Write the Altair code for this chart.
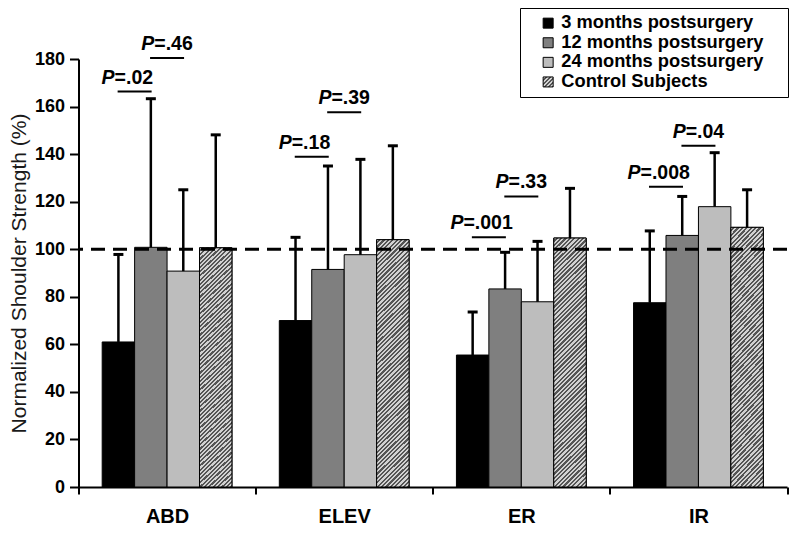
import math
import altair as alt
import pandas as pd

# ---------------- data ----------------
categories = ["ABD", "ELEV", "ER", "IR"]
groups = ["\u00a0\u00a03 months postsurgery", "12 months postsurgery",
          "24 months postsurgery", "Control Subjects"]

mean_3m = [61.0, 70.0, 55.5, 77.5]
mean_12m = [100.8, 91.5, 83.3, 105.8]
mean_24m = [90.8, 97.7, 77.9, 117.9]
mean_ctrl = [100.6, 104.0, 104.7, 109.2]

sd_3m = [36.8, 35.0, 18.1, 30.2]
sd_12m = [62.5, 43.5, 15.4, 16.4]
sd_24m = [34.2, 40.1, 25.4, 22.7]
sd_ctrl = [47.5, 39.5, 20.9, 15.8]

p_cats = ["ABD", "ABD", "ELEV", "ELEV", "ER", "ER", "IR", "IR"]
p_pairs = ["3-12", "12-24", "3-12", "12-24", "3-12", "12-24", "3-12", "12-24"]
p_texts = [".02", ".46", ".18", ".39", ".001", ".33", ".008", ".04"]
p_heights = [166.3, 180.4, 138.9, 157.6, 105.0, 122.2, 126.3, 143.5]
pair_domain = ["edge-L", "3-12", "12-24", "24-C", "edge-R"]

reference_level = 100

rows = []
for g, ms, ss in zip(groups, [mean_3m, mean_12m, mean_24m, mean_ctrl],
                     [sd_3m, sd_12m, sd_24m, sd_ctrl]):
    for c, m, s in zip(categories, ms, ss):
        rows.append({"cat": c, "group": g, "mean": m, "sd": s})
df = pd.DataFrame(rows)
ann = pd.DataFrame({"cat": p_cats, "pair": p_pairs, "pv": p_texts, "line": p_heights})

# ---------------- layout ----------------
W, H = 708.5, 428
FONT = "Liberation Sans"
BAR_W = W / 4 / (4 + 2 * 0.73)

# hatch gradient (diagonal stripes) for tall control bars
LIGHT, DARK = "#d2d2d2", "#555555"


def stripe_stops(t_end, period, dark_frac):
    stops = []
    t = 0.0
    while t + period <= t_end + 1e-9:
        b = t + period * (1 - dark_frac)
        c = t + period
        stops += [{"offset": round(t, 6), "color": LIGHT},
                  {"offset": round(b, 6), "color": LIGHT},
                  {"offset": round(b, 6), "color": DARK},
                  {"offset": round(min(c, 1.0), 6), "color": DARK}]
        t = c
    if t < 1:
        stops.append({"offset": round(t, 6), "color": LIGHT})
        stops.append({"offset": 1, "color": LIGHT})
    return stops


h0 = 105 * H / 180
k = h0 / BAR_W
s = (1 + k) / (1 + k * k)  # scale so that t spans 0..1 over the bar
bar_gradient = {
    "gradient": "linear", "x1": 0, "y1": 0, "x2": round(s, 5), "y2": round(s * k, 5),
    "stops": stripe_stops(1.0, 4 / 256, 0.5),
}

leg_stops = stripe_stops(1.0, 0.2, 0.45)
leg_expr = ("{gradient:'linear',x1:0,y1:0,x2:1,y2:1,stops:["
            + ",".join("{offset:%s,color:'%s'}" % (st["offset"], st["color"]) for st in leg_stops)
            + "]}")

# ---------------- encodings ----------------
x_enc = alt.X("cat:N", sort=categories,
              scale=alt.Scale(domain=categories, paddingInner=0, paddingOuter=0),
              axis=alt.Axis(title=None, labelAngle=0, labelFont=FONT, labelFontSize=20,
                            labelFontWeight="bold", labelColor="black", labelPadding=12,
                            tickBand="extent", tickSize=7, tickWidth=2, tickColor="black",
                            domainColor="black", domainWidth=2, grid=False))
y_axis = alt.Axis(values=list(range(0, 181, 20)), title="Normalized Shoulder Strength (%)",
                  titleFont=FONT, titleFontSize=21, titleFontWeight="normal", titleColor="#1a1a1a",
                  titlePadding=5, labelFont=FONT, labelFontSize=18, labelFontWeight="bold",
                  labelColor="black", labelPadding=5, tickSize=9, tickWidth=2, tickColor="black",
                  domainColor="black", domainWidth=2, grid=False)
y_scale = alt.Scale(domain=[0, 180], nice=False)
off_enc = alt.XOffset("group:N", sort=groups,
                      scale=alt.Scale(domain=groups, paddingInner=0, paddingOuter=0.73))
pair_enc = alt.XOffset("pair:N", sort=pair_domain,
                       scale=alt.Scale(domain=pair_domain, paddingInner=0, paddingOuter=0.23))

base = alt.Chart(df)

bars = base.mark_bar(stroke="black", strokeWidth=1).encode(
    x=x_enc, xOffset=off_enc,
    y=alt.Y("mean:Q", scale=y_scale, axis=y_axis),
    color=alt.Color("group:N", sort=groups,
                    scale=alt.Scale(domain=groups,
                                    range=["#000000", "#7f7f7f", "#bdbdbd", {"expr": leg_expr}]),
                    legend=alt.Legend(orient="none", legendX=441.5, legendY=-51,
                                      title="\u00a0", titleOrient="right", titleFontSize=2,
                                      titlePadding=19,
                                      symbolType="square", symbolSize=100, symbolOpacity=1,
                                      symbolStrokeColor="black", symbolStrokeWidth=1,
                                      labelFont=FONT, labelFontSize=18.3, labelFontWeight="bold",
                                      labelColor="black", labelLimit=500,
                                      padding=6, rowPadding=0.6, symbolOffset=13, labelOffset=4,
                                      strokeColor="black", fillColor="white")),
)

hatch = base.transform_filter(alt.datum.group == groups[3]).mark_bar(
    fill=bar_gradient, stroke="black", strokeWidth=1).encode(
    x=x_enc, xOffset=off_enc, y=alt.Y("mean:Q", scale=y_scale, axis=y_axis))

err = base.transform_calculate(upper="datum.mean + datum.sd").mark_rule(
    color="black", strokeWidth=2.5).encode(
    x=x_enc, xOffset=off_enc, y=alt.Y("mean:Q", scale=y_scale, axis=y_axis), y2="upper:Q")

caps = base.transform_calculate(upper="datum.mean + datum.sd").mark_tick(
    color="black", thickness=3, size=10, opacity=1).encode(
    x=x_enc, xOffset=off_enc, y=alt.Y("upper:Q", scale=y_scale, axis=y_axis))

dash = alt.Chart(pd.DataFrame({"ref": [reference_level]})).mark_rule(
    color="black", strokeWidth=3, strokeDash=[14, 8]).encode(
    y=alt.Y("ref:Q", scale=y_scale, axis=y_axis))

abase = alt.Chart(ann)
FS = 19.5
dx_expr = f"{FS}*(0.667-(1.529+0.556*(length(datum.pv)-1))/2)"

ann_lines = abase.mark_tick(color="black", thickness=2, size=34, opacity=1).encode(
    x=x_enc, xOffset=pair_enc, y=alt.Y("line:Q", scale=y_scale, axis=y_axis))

ann_p = abase.mark_text(text="P", font=FONT, fontSize=FS, fontWeight="bold", fontStyle="italic",
                        align="right", baseline="alphabetic", dy=-8, color="black",
                        dx=alt.ExprRef(expr=dx_expr)).encode(
    x=x_enc, xOffset=pair_enc, y=alt.Y("line:Q", scale=y_scale, axis=y_axis))

ann_t = abase.transform_calculate(lab="'=' + datum.pv").mark_text(
    font=FONT, fontSize=FS, fontWeight="bold", align="left", baseline="alphabetic", dy=-8,
    color="black", dx=alt.ExprRef(expr=dx_expr)).encode(
    x=x_enc, xOffset=pair_enc, y=alt.Y("line:Q", scale=y_scale, axis=y_axis), text="lab:N")

chart = alt.layer(bars, hatch, err, caps, dash, ann_lines, ann_p, ann_t).resolve_scale(
    xOffset="independent"
).properties(
    width=W, height=H,
    autosize=alt.AutoSizeParams(type="none"),
    padding={"left": 70.5, "top": 51, "right": 5, "bottom": 44},
    background="white",
).configure_view(stroke=None)

chart.save("out.html", embed_options={"renderer": "svg", "actions": False})
